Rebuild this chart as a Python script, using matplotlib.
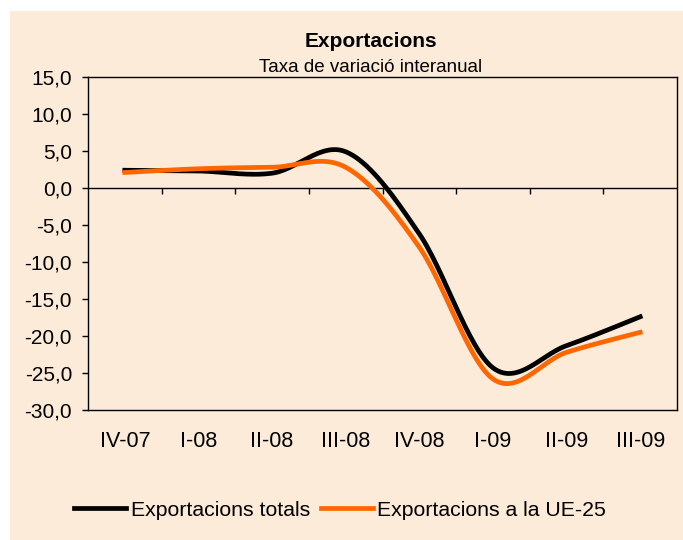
import numpy as np
import matplotlib.pyplot as plt
from matplotlib.patches import Rectangle

plt.rcParams['font.family'] = ['Liberation Sans', 'DejaVu Sans']

# data
quarters = ['IV-07', 'I-08', 'II-08', 'III-08', 'IV-08', 'I-09', 'II-09', 'III-09']
totals = [2.4, 2.3, 2.0, 4.9, -6.2, -24.3, -21.3, -17.4]
ue25 = [2.1, 2.6, 2.8, 2.8, -8.0, -25.8, -22.2, -19.5]
yticks = [15, 10, 5, 0, -5, -10, -15, -20, -25, -30]

bg = '#FBEBD8'
orange = '#FF6600'


# Excel-like smoothed line (bezier through the points)
def smooth(y, n=30):
    y = np.asarray(y, dtype=float)
    x = np.arange(len(y), dtype=float)
    px = np.concatenate([[x[0]], x, [x[-1]]])
    py = np.concatenate([[y[0]], y, [y[-1]]])
    xs, ys = [], []
    t = np.linspace(0, 1, n)
    for i in range(1, len(px) - 2):
        p0, p1, p2, p3 = py[i - 1], py[i], py[i + 1], py[i + 2]
        q0, q1, q2, q3 = px[i - 1], px[i], px[i + 1], px[i + 2]
        c1y = p1 + (p2 - p0) / 6
        c2y = p2 - (p3 - p1) / 6
        c1x = q1 + (q2 - q0) / 6
        c2x = q2 - (q3 - q1) / 6
        b = lambda a, c, d, e: ((1 - t) ** 3 * a + 3 * (1 - t) ** 2 * t * c
                                + 3 * (1 - t) * t ** 2 * d + t ** 3 * e)
        xs.append(b(q1, c1x, c2x, q2))
        ys.append(b(p1, c1y, c2y, p2))
    return np.concatenate(xs), np.concatenate(ys)


fig = plt.figure(figsize=(6.83, 5.40), dpi=100, facecolor='white')
fig.add_artist(Rectangle((10 / 683, 0), 1, 1 - 11 / 540, transform=fig.transFigure,
                         facecolor=bg, edgecolor='none', zorder=-10))
ax = fig.add_axes([88 / 683, 1 - 410 / 540, (677 - 88) / 683, (410 - 77) / 540])
ax.set_facecolor(bg)

x = np.arange(len(quarters))
sx, sy = smooth(totals)
ax.plot(sx, sy, color='black', lw=3.4, label='Exportacions totals')
sx, sy = smooth(ue25)
ax.plot(sx, sy, color=orange, lw=3.4, label='Exportacions a la UE-25')

ax.set_xlim(-0.5, len(quarters) - 0.5)
ax.set_ylim(-30, 15)
ax.axhline(0, color='black', lw=1, zorder=1)
ax.vlines(x[1:] - 0.5, -0.75, 0, color='black', lw=1)

ax.set_xticks(x)
ax.set_xticklabels(quarters, fontsize=15.5)
ax.tick_params(axis='x', length=0, pad=15)
ax.set_yticks(yticks)
ax.set_yticklabels([f'{v:.1f}'.replace('.', ',') for v in yticks], fontsize=15)
ax.tick_params(axis='y', length=4.5, width=1, direction='out', pad=7)
for s in ax.spines.values():
    s.set_color('black')
    s.set_linewidth(1)

fig.text(371 / 683, 1 - 42 / 540, 'Exportacions', ha='center', va='center',
         fontsize=15, fontweight='bold')
fig.text(371 / 683, 1 - 68 / 540, 'Taxa de variació interanual', ha='center', va='center',
         fontsize=13.5)

fig.legend(loc='center', bbox_to_anchor=(340 / 683, 1 - 510 / 540), ncol=2, frameon=False,
           fontsize=15.3, handlelength=2.45, handletextpad=0.2, columnspacing=0.5)

fig.savefig('out.png', dpi=100, facecolor='white')
